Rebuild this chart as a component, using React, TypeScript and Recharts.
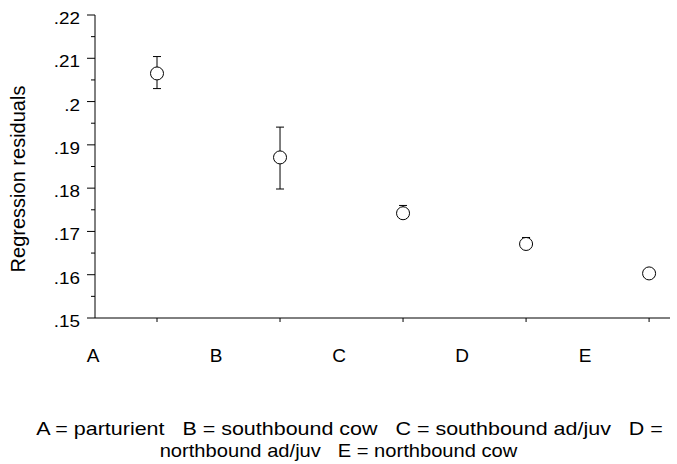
import { ScatterChart, Scatter, XAxis, YAxis, ErrorBar, Label } from "recharts"

const categories = ["A", "B", "C", "D", "E"]
const means = [0.2065, 0.1871, 0.1742, 0.1671, 0.1603]
const upper = [0.2104, 0.1941, 0.176, 0.1686, 0.1612]
const lower = [0.203, 0.1798, 0.173, 0.1661, 0.1594]
const yTicks = [0.15, 0.155, 0.16, 0.165, 0.17, 0.175, 0.18, 0.185, 0.19, 0.195, 0.2, 0.205, 0.21, 0.215, 0.22]
const yLabels: Record<string, string> = {
  "0.15": ".15", "0.16": ".16", "0.17": ".17", "0.18": ".18",
  "0.19": ".19", "0.2": ".2", "0.21": ".21", "0.22": ".22",
}
const footnote = [
  "A = parturient   B = southbound cow   C = southbound ad/juv   D =",
  "northbound ad/juv   E = northbound cow",
]
const footShift = [11, 0]
const footScale = [1.13, 1.06]

const data = categories.map((c, i) => ({
  x: i,
  y: means[i],
  err: [means[i] - lower[i], upper[i] - means[i]],
}))

const font = "'Liberation Sans', Arial, Helvetica, sans-serif"

const YTick = (props: any) => {
  const { x, y, payload } = props
  const key = String(Math.round(payload.value * 1000) / 1000)
  const label = yLabels[key]
  return (
    <g>
      <line x1={x - (label ? 8 : 4)} x2={x} y1={y} y2={y} stroke="#000" />
      {label && (
        <text
          transform={`translate(${x - 15},${y + 9}) scale(1.18,1)`}
          textAnchor="end"
          fontSize={16}
          fontFamily={font}
          fill="#000"
        >
          {label}
        </text>
      )}
    </g>
  )
}

const XTick = (props: any) => {
  const { x, y, payload } = props
  return (
    <g>
      <line x1={x} x2={x} y1={y} y2={y + 4} stroke="#000" />
      <text x={x - 64} y={y + 44} textAnchor="middle" fontSize={19} fontFamily={font} fill="#000">
        {categories[payload.value]}
      </text>
    </g>
  )
}

const Dot = (props: any) => (
  <circle cx={props.cx} cy={props.cy} r={6.5} fill="#fff" stroke="#000" strokeWidth={1} />
)

const NoDot = () => <g />

export default function App() {
  return (
    <div style={{ position: "absolute", left: 0, top: 0, width: 677, height: 464, background: "#fff" }}>
      <ScatterChart width={677} height={464} margin={{ top: 15, right: 7, bottom: 106, left: 0 }}>
        <XAxis
          type="number"
          dataKey="x"
          domain={[-0.504, 4.17]}
          ticks={[0, 1, 2, 3, 4]}
          allowDataOverflow
          height={40}
          tickSize={0}
          tickMargin={0}
          tickLine={false}
          axisLine={{ stroke: "#000" }}
          tick={<XTick />}
        />
        <YAxis
          type="number"
          dataKey="y"
          domain={[0.15, 0.22]}
          ticks={yTicks}
          interval={0}
          allowDataOverflow
          width={95}
          tickSize={0}
          tickMargin={0}
          tickLine={false}
          axisLine={{ stroke: "#000" }}
          tick={<YTick />}
        >
          <Label
            content={() => (
              <text
                x={25}
                y={179}
                transform="rotate(-90 25 179)"
                textAnchor="middle"
                fontSize={20}
                fontFamily={font}
                fill="#000"
              >
                Regression residuals
              </text>
            )}
          />
        </YAxis>
        <Scatter data={data} isAnimationActive={false} shape={<NoDot />}>
          <ErrorBar dataKey="err" direction="y" width={4} stroke="#000" strokeWidth={1} />
        </Scatter>
        <Scatter data={data} isAnimationActive={false} shape={<Dot />} />
      </ScatterChart>
      <div
        style={{
          position: "absolute",
          left: 0,
          top: 418,
          width: 677,
          textAlign: "center",
          fontFamily: font,
          fontSize: 19,
          lineHeight: "22px",
          color: "#000",
          whiteSpace: "pre",
        }}
      >
        {footnote.map((line, i) => (
          <div key={line} style={{ transform: `translateX(${footShift[i]}px) scaleX(${footScale[i]})` }}>
            {line}
          </div>
        ))}
      </div>
    </div>
  )
}
